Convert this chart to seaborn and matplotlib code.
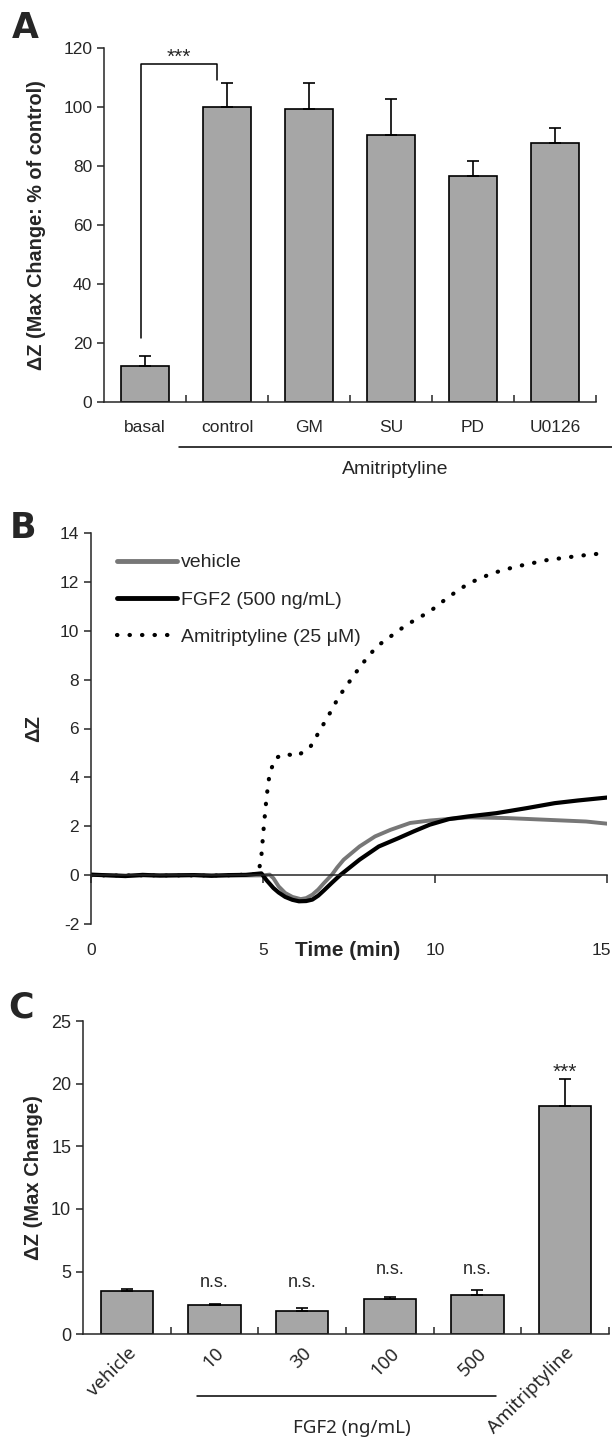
import matplotlib
matplotlib.use("Agg")
import matplotlib.pyplot as plt
import seaborn as sns
import numpy as np
from matplotlib.lines import Line2D

# ---- panel A: max change, % of control
a_groups = ["basal", "control", "GM", "SU", "PD", "U0126"]
a_mean = [12.3, 100.0, 99.2, 90.4, 76.7, 87.6]
a_sem = [3.2, 8.2, 9.0, 12.3, 5.1, 5.3]

# ---- panel B: time course of dZ
veh_t = [0, 1, 2, 3, 4, 5.0, 5.19, 5.3, 5.45, 5.64, 5.85, 6.09, 6.25, 6.43,
         6.6, 6.77, 7.0, 7.15, 7.34, 7.8, 8.25, 8.7, 9.27, 9.84, 10.97, 12.1,
         13.24, 14.38, 15]
veh_v = [0.02, -0.01, 0.0, 0.01, -0.01, 0.0, 0.03, -0.12, -0.45, -0.72, -0.88,
         -0.97, -0.93, -0.79, -0.58, -0.31, 0.03, 0.32, 0.64, 1.18, 1.59, 1.86,
         2.14, 2.24, 2.37, 2.34, 2.27, 2.2, 2.11]
fgf_t = [0, 0.5, 1, 1.5, 2, 2.5, 3, 3.5, 4, 4.5, 4.95, 5.1, 5.3, 5.45, 5.64,
         5.85, 6.04, 6.25, 6.43, 6.6, 6.77, 7.0, 7.23, 7.8, 8.36, 8.93, 9.38,
         9.84, 10.4, 10.97, 11.77, 12.67, 13.47, 14.15, 15]
fgf_v = [0.03, 0.0, -0.03, 0.02, -0.01, 0.0, 0.01, -0.02, 0.01, 0.02, 0.08,
         -0.2, -0.52, -0.7, -0.88, -1.0, -1.06, -1.05, -0.99, -0.83, -0.61,
         -0.3, 0.0, 0.64, 1.18, 1.52, 1.8, 2.07, 2.3, 2.41, 2.54, 2.75, 2.95,
         3.06, 3.18]
ami_t = [0, 1, 2, 3, 4, 4.85, 4.94, 5.02, 5.1, 5.19, 5.36, 5.64, 5.98, 6.38,
         6.66, 6.94, 7.2, 7.4, 7.68, 7.97, 8.3, 8.7, 9.16, 9.84, 10.4, 10.97,
         11.65, 12.33, 13.24, 14.15, 15]
ami_v = [0, 0, 0, 0, 0, 0.05, 0.64, 2.0, 3.2, 4.18, 4.79, 4.97, 4.86, 5.27,
         5.95, 6.63, 7.3, 7.7, 8.26, 8.8, 9.35, 9.76, 10.23, 10.78, 11.39,
         11.93, 12.34, 12.61, 12.88, 13.05, 13.18]
b_xticks = [0, 5, 10, 15]

# ---- panel C: max change
c_groups = ["vehicle", "10", "30", "100", "500", "Amitriptyline"]
c_mean = [3.46, 2.34, 1.89, 2.82, 3.14, 18.19]
c_sem = [0.16, 0.08, 0.24, 0.13, 0.37, 2.21]
c_marks = ["", "n.s.", "n.s.", "n.s.", "n.s.", "***"]
c_mark_y = [0, 3.8, 3.8, 4.8, 4.8, 20.5]

sns.set_style("ticks")
plt.rcParams["font.family"] = ["Liberation Sans", "DejaVu Sans"]
plt.rcParams["axes.linewidth"] = 1.1
plt.rcParams["axes.unicode_minus"] = False

BAR = "#a6a6a6"
fig = plt.figure(figsize=(6.12, 14.39), dpi=100)


def excel_bars(ax, groups, mean, sem, width):
    sns.barplot(x=groups, y=mean, color=BAR, saturation=1, edgecolor="black",
                linewidth=1.2, width=width, ax=ax)
    ax.errorbar(np.arange(len(groups)), mean, yerr=[np.zeros(len(sem)), sem],
                fmt="none", ecolor="black", elinewidth=1.2, capsize=4.3, capthick=1.2)
    ax.set_xlim(-0.5, len(groups) - 0.5)
    ax.set_xticks(np.arange(len(groups)) + 0.5, minor=True)
    ax.tick_params(axis="x", which="minor", direction="in", length=5, width=1.1)
    ax.tick_params(axis="y", direction="out", length=5, width=1.1)
    sns.despine(ax=ax)


# ---------- A
axA = fig.add_axes([104 / 612, 1 - 402.3 / 1439, 492 / 612, 354.6 / 1439])
excel_bars(axA, a_groups, a_mean, a_sem, 0.585)
axA.set_ylim(0, 120)
axA.set_yticks(range(0, 121, 20))
axA.tick_params(axis="x", which="major", length=0, pad=13, labelsize=12.5)
axA.tick_params(axis="y", labelsize=12.5)
axA.set_ylabel("ΔZ (Max Change: % of control)", fontsize=14.3, fontweight="bold")
axA.yaxis.set_label_coords(-0.118, 0.5)
axA.plot([-0.05, -0.05, 0.88, 0.88], [21.9, 114.5, 114.5, 109], color="black", lw=1.1)
axA.text(0.415, 114.8, "***", ha="center", va="baseline", fontsize=15)
axA.plot([0.415, 5.7], [-0.126, -0.126], color="black", lw=1.1,
         transform=axA.get_xaxis_transform(), clip_on=False)
axA.text(3.05, -0.19, "Amitriptyline", ha="center", va="center", fontsize=14,
         transform=axA.get_xaxis_transform())

# ---------- B
axB = fig.add_axes([91 / 612, 1 - 924.3 / 1439, 516.4 / 612, 391.6 / 1439])
dots = (0, (0.1, 2.9))
sns.lineplot(x=ami_t, y=ami_v, ax=axB, color="black", lw=3, linestyle=dots)
sns.lineplot(x=veh_t, y=veh_v, ax=axB, color="#777777", lw=2.8)
sns.lineplot(x=fgf_t, y=fgf_v, ax=axB, color="black", lw=3)
axB.lines[0].set_dash_capstyle("round")
axB.set_xlim(0, 15)
axB.set_ylim(-2, 14)
axB.set_yticks(range(-2, 15, 2))
axB.set_xticks(b_xticks)
axB.set_xticklabels([])
axB.spines["bottom"].set_position(("data", 0))
axB.tick_params(axis="x", direction="out", length=6, width=1.1)
axB.tick_params(axis="y", direction="out", length=5, width=1.1, labelsize=12.5)
sns.despine(ax=axB)
for t in b_xticks:
    # last label sits at the right edge of the figure
    ha = "right" if t == b_xticks[-1] else "center"
    xt = t + 0.12 if t == b_xticks[-1] else t
    axB.text(xt, -0.066, str(t), ha=ha, va="center", fontsize=12.5,
             transform=axB.get_xaxis_transform())
axB.text(7.46, -0.066, "Time (min)", ha="center", va="center", fontsize=15,
         fontweight="bold", transform=axB.get_xaxis_transform())
axB.set_ylabel("ΔZ", fontsize=14.5, fontweight="bold")
axB.yaxis.set_label_coords(-0.093, 0.5)
handles = [Line2D([], [], color="#777777", lw=3.5),
           Line2D([], [], color="black", lw=3.5),
           Line2D([], [], color="black", lw=3, linestyle=dots, dash_capstyle="round")]
axB.legend(handles, ["vehicle", "FGF2 (500 ng/mL)", "Amitriptyline (25 μM)"],
           loc="upper left", bbox_to_anchor=(0.05, 0.946), frameon=False,
           fontsize=14, handlelength=3.1, handletextpad=0.2, labelspacing=1.0,
           borderpad=0, borderaxespad=0)

# ---------- C
axC = fig.add_axes([83 / 612, 1 - 1334.3 / 1439, 526 / 612, 313.3 / 1439])
excel_bars(axC, c_groups, c_mean, c_sem, 0.6)
axC.set_ylim(0, 25)
axC.set_yticks(range(0, 26, 5))
axC.tick_params(axis="y", labelsize=13)
axC.tick_params(axis="x", which="major", length=0, pad=7)
axC.set_xticklabels(c_groups, rotation=45, ha="right", rotation_mode="anchor",
                    fontsize=13.5, family=["Noto Sans", "DejaVu Sans"])
axC.set_ylabel("ΔZ (Max Change)", fontsize=14.5, fontweight="bold")
axC.yaxis.set_label_coords(-0.076, 0.5)
for i, (m, y) in enumerate(zip(c_marks, c_mark_y)):
    if m:
        axC.text(i, y, m, ha="center", va="baseline",
                 fontsize=15 if m == "***" else 13)
axC.plot([0.795, 4.216], [-0.197, -0.197], color="black", lw=1.1,
         transform=axC.get_xaxis_transform(), clip_on=False)
axC.text(2.57, -0.3, "FGF2 (ng/mL)", ha="center", va="center", fontsize=13.5,
         family=["Noto Sans", "DejaVu Sans"], transform=axC.get_xaxis_transform())

# panel letters
for lab, x, yb in [("A", 12, 38), ("B", 10, 538), ("C", 8, 1018)]:
    fig.text(x / 612, 1 - yb / 1439, lab, fontsize=25, fontweight="bold",
             family=["DejaVu Sans"], va="baseline", ha="left")

fig.savefig("out.png", dpi=100)
